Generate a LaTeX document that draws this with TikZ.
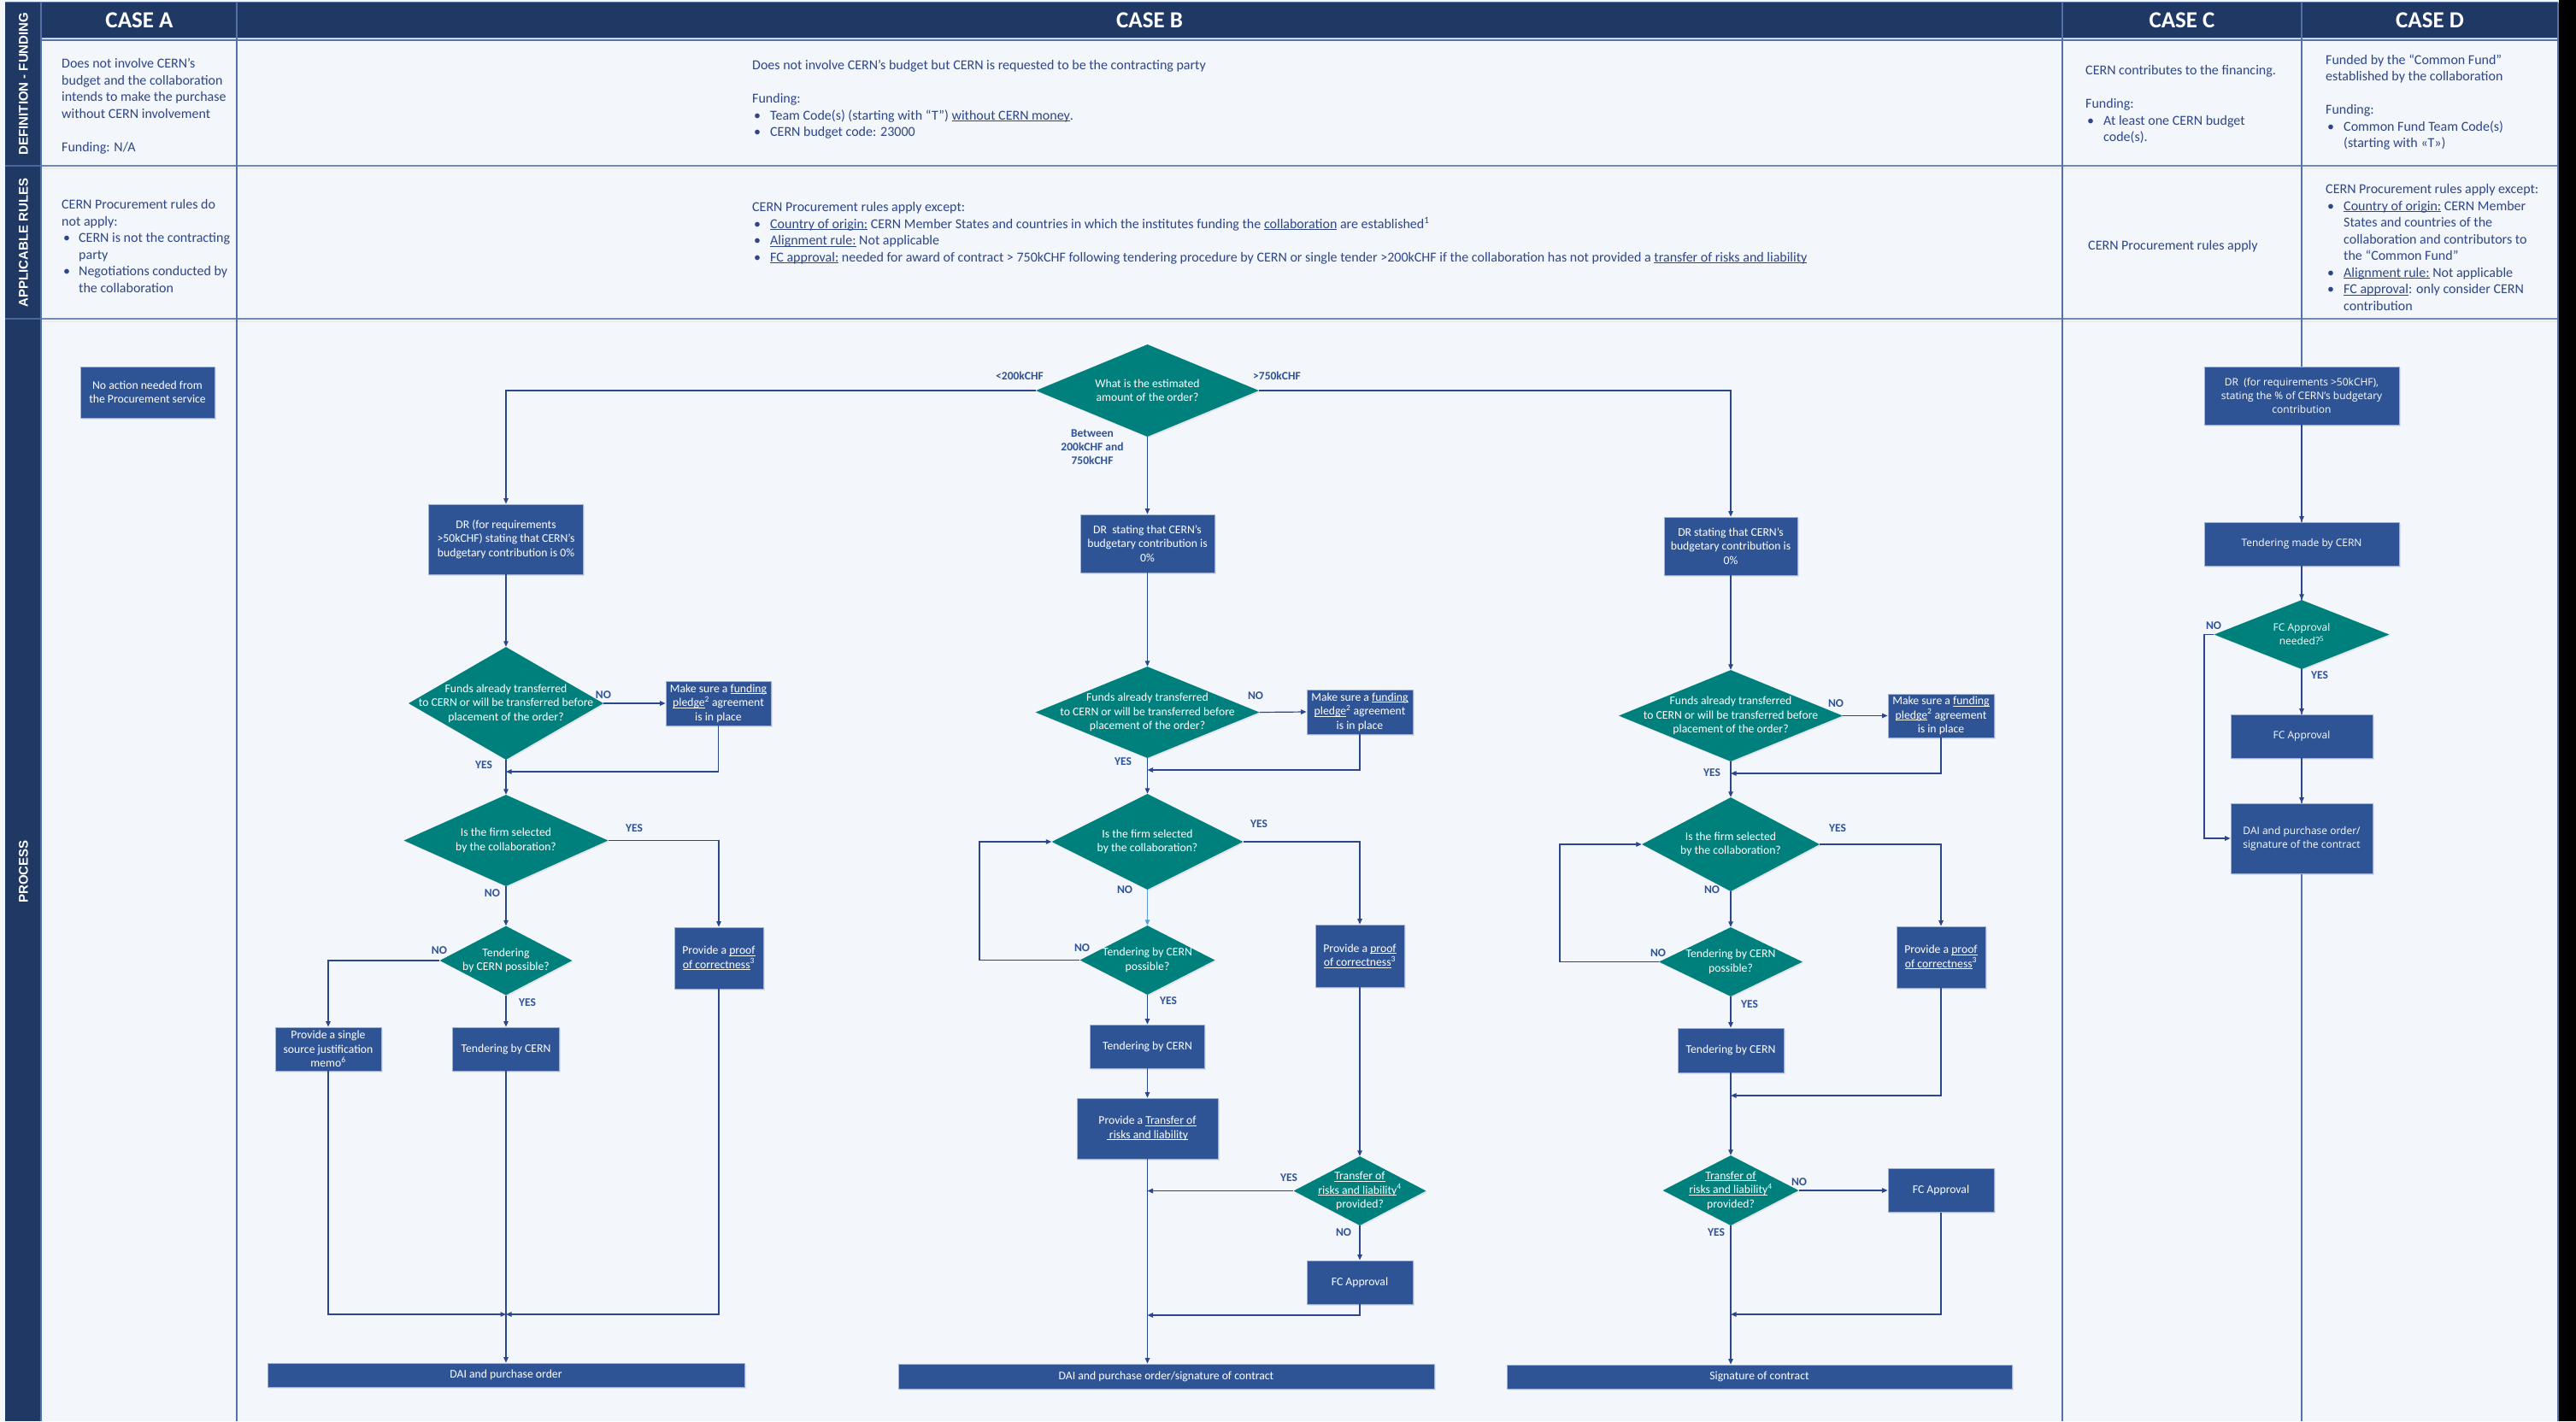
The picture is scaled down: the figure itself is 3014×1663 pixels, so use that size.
\documentclass[tikz,border=0pt]{standalone}
\usepackage{fontspec}
\setmainfont{Carlito}
\newfontfamily\segoefnt{Open Sans}
\newfontfamily\stripfnt{Liberation Sans}
\usetikzlibrary{shapes.geometric,arrows.meta,shadows}
\definecolor{bgc}{RGB}{243,246,251}
\definecolor{navy}{RGB}{31,56,100}
\definecolor{gridc}{RGB}{84,114,166}
\definecolor{rowc}{RGB}{110,138,185}
\definecolor{boxc}{RGB}{47,84,150}
\definecolor{boxedge}{RGB}{160,178,212}
\definecolor{tealc}{RGB}{0,128,124}
\definecolor{txtc}{RGB}{45,70,135}
\definecolor{lblc}{RGB}{47,82,150}
\definecolor{connc}{RGB}{44,70,138}
\definecolor{connl}{RGB}{95,155,215}
\newsavebox\ulbox
\newcommand{\uln}[1]{\sbox\ulbox{#1}\rlap{\rule[-1.7pt]{\wd\ulbox}{0.75pt}}\usebox\ulbox}
\newcommand{\bula}{\makebox[20pt][l]{\hspace{2pt}\textbullet}}
\newcommand{\inda}{\hspace*{20pt}}
\newcommand{\bulb}{\makebox[21pt][l]{\hspace{2pt}\textbullet}}
\newcommand{\indb}{\hspace*{21pt}}
\newcommand{\cellfnt}{\fontsize{16}{19.5}\selectfont}
\newcommand{\boxfnt}{\fontsize{13.7}{16.5}\selectfont}
\newcommand{\dfnt}{\segoefnt\fontsize{12}{16}\selectfont}
\newcommand{\lblfnt}{\bfseries\fontsize{13.5}{16}\selectfont}
\begin{document}
\begin{tikzpicture}[x=1pt,y=-1pt,
  cell/.style={anchor=north west, inner sep=0pt, align=left, text=txtc, font=\cellfnt},
  hdr/.style={text=white, font=\bfseries\fontsize{27}{30}\selectfont, inner sep=0pt},
  striplbl/.style={text=white, rotate=90, font=\stripfnt\bfseries\fontsize{15}{18}\selectfont, inner sep=0pt},
  pbox/.style={rectangle, fill=boxc, draw=boxedge, line width=0.8pt, text=white, align=center, inner sep=0pt, font=\boxfnt, drop shadow={shadow xshift=1.5pt, shadow yshift=-1.5pt, opacity=0.18}},
  dia/.style={diamond, fill=tealc, inner sep=0pt, drop shadow={shadow xshift=1.5pt, shadow yshift=-1.5pt, opacity=0.15}},
  dtext/.style={text=white, align=center, inner sep=0pt, font=\boxfnt},
  lbl/.style={text=lblc, font=\lblfnt, inner sep=0pt, align=center},
  conn/.style={draw=connc, line width=1.2pt},
  arr/.style={conn, -{Triangle[length=6.5pt,width=5.5pt]}}
]
\useasboundingbox (0,0) rectangle (3014,1663);
% ---------- background and grid ----------
\fill[bgc] (0,0) rectangle (3014,1663);
\fill[black] (2994,0) rectangle (3014,1663);
\fill[navy] (6,3) rectangle (48,1663);
\fill[navy] (48,3) rectangle (2993,45);
\draw[rowc!70!white, line width=1pt] (48,44) -- (2993,44);
\draw[gridc, line width=2pt] (48,46.5) -- (2993,46.5);
\draw[black!8, line width=2pt] (48,197) -- (2993,197);
\draw[black!8, line width=2pt] (48,376) -- (2993,376);
\draw[rowc, line width=2.5pt] (48,194) -- (2993,194);
\draw[rowc, line width=2.5pt] (48,373) -- (2993,373);
\draw[gridc!80!navy, line width=2pt] (6,194) -- (48,194);
\draw[gridc!80!navy, line width=2pt] (6,373) -- (48,373);
\draw[gridc, line width=1.2pt] (48,3) -- (48,1663);
\draw[gridc, line width=1.5pt] (277,3) -- (277,1663);
\draw[gridc, line width=1.5pt] (2413,3) -- (2413,1663);
\draw[gridc, line width=1.5pt] (2693,3) -- (2693,1663);
\draw[gridc, line width=1.5pt] (2993,3) -- (2993,1663);
\draw[gridc, line width=1pt] (6,2.5) -- (2993,2.5);
% ---------- strip labels ----------
\node[striplbl] (lblDef) at (27.5,98) {DEFINITION - FUNDING};
\node[striplbl] (lblRul) at (27.5,284) {APPLICABLE RULES};
\node[striplbl] (lblPro) at (27.5,1020) {PROCESS};
% ---------- headers ----------
\node[hdr] (hA) at (163,24) {CASE A};
\node[hdr] (hB) at (1345,24) {CASE B};
\node[hdr] (hC) at (2553,24) {CASE C};
\node[hdr] (hD) at (2843,24) {CASE D};
% ---------- definition / rules texts ----------
\node[cell] (defA) at (72,68.5) {Does not involve CERN’s\\budget and the collaboration\\intends to make the purchase\\without CERN involvement\\\mbox{}\\Funding: N/A};
\node[cell] (rulA) at (72,233.5) {CERN Procurement rules do\\not apply:\\\bula CERN is not the contracting\\\inda party\\\bula Negotiations conducted by\\\inda the collaboration};
\node[cell] (defB) at (880,70.5) {Does not involve CERN’s budget but CERN is requested to be the contracting party\\\mbox{}\\Funding:\\\bulb Team Code(s) (starting with “T”) \uln{without CERN money}.\\\bulb CERN budget code: 23000};
\node[cell] (rulB) at (880,236.5) {CERN Procurement rules apply except:\\\bulb \uln{Country of origin:} CERN Member States and countries in which the institutes funding the \uln{collaboration} are established\textsuperscript{1}\\\bulb \uln{Alignment rule:} Not applicable\\\bulb \uln{FC approval:} needed for award of contract > 750kCHF following tendering procedure by CERN or single tender >200kCHF if the collaboration has not provided a \uln{transfer of risks and liability}};
\node[cell] (defC) at (2440,76.5) {CERN contributes to the financing.\\\mbox{}\\Funding:\\\bulb At least one CERN budget\\\indb code(s).};
\node[cell] (rulC) at (2443,281.5) {CERN Procurement rules apply};
\node[cell] (defD) at (2721,63.5) {Funded by the “Common Fund”\\established by the collaboration\\\mbox{}\\Funding:\\\bulb Common Fund Team Code(s)\\\indb (starting with «T»)};
\node[cell] (rulD) at (2721,215.5) {CERN Procurement rules apply except:\\\bulb \uln{Country of origin:} CERN Member\\\indb States and countries of the\\\indb collaboration and contributors to\\\indb the “Common Fund”\\\bulb \uln{Alignment rule:} Not applicable\\\bulb \uln{FC approval}: only consider CERN\\\indb contribution};
% ---------- CASE A process ----------
\node[pbox, minimum width=157pt, minimum height=60pt] (noact) at (172.5,459) {No action needed from\\the Procurement service};
\node[pbox, minimum width=181pt, minimum height=82pt] (drA) at (592,631) {DR (for requirements\\>50kCHF) stating that CERN’s\\budgetary contribution is 0\%};
\node[dia, minimum width=228pt, minimum height=132pt] (fundsA) at (592,823) {};
\node[dtext] (fundsAt) at (fundsA) {Funds already transferred\\to CERN or will be transferred before\\placement of the order?};
\node[pbox, minimum width=123pt, minimum height=52pt] (pledgeA) at (840.5,823) {Make sure a \uln{funding}\\\uln{pledge}\textsuperscript{2} agreement\\is in place};
\node[dia, minimum width=239pt, minimum height=107pt] (firmA) at (592,983.5) {};
\node[dtext] (firmAt) at (firmA) {Is the firm selected\\by the collaboration?};
\node[dia, minimum width=155pt, minimum height=81pt] (tendqA) at (592,1124) {};
\node[dtext] (tendqAt) at (tendqA) {Tendering\\by CERN possible?};
\node[pbox, minimum width=124pt, minimum height=51pt] (singleA) at (384,1227.5) {Provide a single\\source justification\\memo\textsuperscript{6}};
\node[pbox, minimum width=125pt, minimum height=51pt] (tendA) at (592,1227.5) {Tendering by CERN};
\node[pbox, minimum width=104pt, minimum height=72pt] (proofA) at (841,1121) {Provide a \uln{proof}\\\uln{of correctness}\textsuperscript{3}};
\node[pbox, minimum width=558pt, minimum height=28pt] (daiA) at (592,1609) {DAI and purchase order};
\coordinate (jA1) at (592,903);
\coordinate (jA2) at (592,1538);
% ---------- CASE B process ----------
\node[dia, minimum width=261pt, minimum height=108pt] (amt) at (1342.5,457) {};
\node[dtext] (amtt) at (amt) {What is the estimated\\amount of the order?};
\node[pbox, minimum width=157pt, minimum height=68pt] (drB) at (1342.5,636) {DR\ \ stating that CERN’s\\budgetary contribution is\\0\%};
\node[dia, minimum width=262pt, minimum height=107pt] (fundsB) at (1342.5,833.5) {};
\node[dtext] (fundsBt) at (fundsB) {Funds already transferred\\to CERN or will be transferred before\\placement of the order?};
\node[pbox, minimum width=124pt, minimum height=52pt] (pledgeB) at (1591,833) {Make sure a \uln{funding}\\\uln{pledge}\textsuperscript{2} agreement\\is in place};
\node[dia, minimum width=224pt, minimum height=112pt] (firmB) at (1342.5,985) {};
\node[dtext] (firmBt) at (firmB) {Is the firm selected\\by the collaboration?};
\node[dia, minimum width=158pt, minimum height=81pt] (tendqB) at (1342.5,1123.5) {};
\node[dtext] (tendqBt) at (tendqB) {Tendering by CERN\\possible?};
\node[pbox, minimum width=134pt, minimum height=51pt] (tendB) at (1342.5,1224.5) {Tendering by CERN};
\node[pbox, minimum width=165pt, minimum height=71pt] (transB) at (1342.5,1320.5) {Provide a \uln{Transfer of}\\\uln{ risks and liability}};
\node[pbox, minimum width=104pt, minimum height=73pt] (proofB) at (1591,1118.5) {Provide a \uln{proof}\\\uln{of correctness}\textsuperscript{3}};
\node[dia, minimum width=155pt, minimum height=81pt] (trdB) at (1591,1393.5) {};
\node[dtext] (trdBt) at (trdB) {\uln{Transfer of}\\\uln{risks and liability}\textsuperscript{4}\\provided?};
\node[pbox, minimum width=124pt, minimum height=51pt] (fcB) at (1591,1500.5) {FC Approval};
\node[pbox, minimum width=627pt, minimum height=29pt] (daiB) at (1364.5,1610.5) {DAI and purchase order/signature of contract};
\coordinate (jB1) at (1342.5,901);
\coordinate (lB) at (1146,1123.5);
\coordinate (jB2) at (1342.5,1393.5);
\coordinate (jB3) at (1342.5,1539);
% ---------- CASE B right column ----------
\node[pbox, minimum width=156pt, minimum height=68pt] (drC) at (2025,639) {DR stating that CERN’s\\budgetary contribution is\\0\%};
\node[dia, minimum width=262pt, minimum height=107pt] (fundsC) at (2025,837.5) {};
\node[dtext] (fundsCt) at (fundsC) {Funds already transferred\\to CERN or will be transferred before\\placement of the order?};
\node[pbox, minimum width=124pt, minimum height=51pt] (pledgeC) at (2271,837.5) {Make sure a \uln{funding}\\\uln{pledge}\textsuperscript{2} agreement\\is in place};
\node[dia, minimum width=208pt, minimum height=110pt] (firmC) at (2025,988) {};
\node[dtext] (firmCt) at (firmC) {Is the firm selected\\by the collaboration?};
\node[dia, minimum width=168pt, minimum height=81pt] (tendqC) at (2025,1125.5) {};
\node[dtext] (tendqCt) at (tendqC) {Tendering by CERN\\possible?};
\node[pbox, minimum width=124pt, minimum height=52pt] (tendC) at (2025,1229) {Tendering by CERN};
\node[pbox, minimum width=104pt, minimum height=72pt] (proofC) at (2271,1120) {Provide a \uln{proof}\\\uln{of correctness}\textsuperscript{3}};
\node[dia, minimum width=159pt, minimum height=82pt] (trdC) at (2025,1393) {};
\node[dtext] (trdCt) at (trdC) {\uln{Transfer of}\\\uln{risks and liability}\textsuperscript{4}\\provided?};
\node[pbox, minimum width=124pt, minimum height=51pt] (fcC) at (2271,1393) {FC Approval};
\node[pbox, minimum width=591pt, minimum height=28pt] (sigC) at (2058.5,1611) {Signature of contract};
\coordinate (jC1) at (2025,905);
\coordinate (lC) at (1825,1125.5);
\coordinate (jC2) at (2025,1282);
\coordinate (jC3) at (2025,1538);
% ---------- CASE C / D process ----------
\node[pbox, font=\dfnt, minimum width=228pt, minimum height=68pt] (drD) at (2693,463) {DR\ \ (for requirements >50kCHF),\\stating the \% of CERN’s budgetary\\contribution};
\node[pbox, font=\dfnt, minimum width=228pt, minimum height=51pt] (tenD) at (2693,636.5) {Tendering made by CERN};
\node[dia, minimum width=205pt, minimum height=81pt] (fcqD) at (2693,742.5) {};
\node[dtext, font=\dfnt] (fcqDt) at (fcqD) {FC Approval\\needed?\textsuperscript{5}};
\node[pbox, font=\dfnt, minimum width=166pt, minimum height=51pt] (fcD) at (2693,861.5) {FC Approval};
\node[pbox, font=\dfnt, minimum width=166pt, minimum height=82pt] (daiD) at (2693,981) {DAI and purchase order/\\signature of the contract};
\coordinate (lD) at (2579,742.5);
% ---------- connectors ----------
\draw[arr] (amt.west) -| (drA.north);
\draw[arr] (amt.east) -| (drC.north);
\draw[arr] (amt.south) -- (drB.north);
% Case A
\draw[arr] (drA.south) -- (fundsA.north);
\draw[arr] (fundsA.east) -- (pledgeA.west);
\draw[arr] (pledgeA.south) |- (jA1);
\draw[arr] (fundsA.south) -- (firmA.north);
\draw[arr] (firmA.east) -| (proofA.north);
\draw[arr] (firmA.south) -- (tendqA.north);
\draw[arr] (tendqA.west) -| (singleA.north);
\draw[arr] (tendqA.south) -- (tendA.north);
\draw[arr] (singleA.south) |- (jA2);
\draw[arr] (proofA.south) |- (jA2);
\draw[arr] (tendA.south) -- (daiA.north);
% Case B middle
\draw[arr] (drB.south) -- (fundsB.north);
\draw[arr] (fundsB.east) -- (pledgeB.west);
\draw[arr] (pledgeB.south) |- (jB1);
\draw[arr] (fundsB.south) -- (firmB.north);
\draw[arr] (firmB.east) -| (proofB.north);
\draw[arr, draw=connl] (firmB.south) -- (tendqB.north);
\draw[arr] (tendqB.west) -- (lB) |- (firmB.west);
\draw[arr] (tendqB.south) -- (tendB.north);
\draw[arr] (tendB.south) -- (transB.north);
\draw[arr] (proofB.south) -- (trdB.north);
\draw[arr] (trdB.west) -- (jB2);
\draw[arr] (trdB.south) -- (fcB.north);
\draw[arr] (fcB.south) |- (jB3);
\draw[arr] (transB.south) -- (transB.south |- daiB.north);
% Case B right
\draw[arr] (drC.south) -- (fundsC.north);
\draw[arr] (fundsC.east) -- (pledgeC.west);
\draw[arr] (pledgeC.south) |- (jC1);
\draw[arr] (fundsC.south) -- (firmC.north);
\draw[arr] (firmC.east) -| (proofC.north);
\draw[arr] (firmC.south) -- (tendqC.north);
\draw[arr] (tendqC.west) -- (lC) |- (firmC.west);
\draw[arr] (tendqC.south) -- (tendC.north);
\draw[arr] (tendC.south) -- (trdC.north);
\draw[arr] (proofC.south) |- (jC2);
\draw[arr] (trdC.east) -- (fcC.west);
\draw[arr] (trdC.south) -- (trdC.south |- sigC.north);
\draw[arr] (fcC.south) |- (jC3);
% Case C/D
\draw[arr] (drD.south) -- (tenD.north);
\draw[arr] (tenD.south) -- (fcqD.north);
\draw[arr] (fcqD.south) -- (fcD.north);
\draw[arr] (fcD.south) -- (daiD.north);
\draw[arr] (fcqD.west) -- (lD) |- (daiD.west);
% ---------- labels ----------
\node[lbl] (l200) at (1193,440) {<200kCHF};
\node[lbl] (l750) at (1494,440) {>750kCHF};
\node[lbl] (lbtw) at (1278,523) {Between\\200kCHF and\\750kCHF};
\node[lbl] (lA1) at (706,813) {NO};
\node[lbl] (lA2) at (566,895) {YES};
\node[lbl] (lA3) at (742,969) {YES};
\node[lbl] (lA4) at (576,1045) {NO};
\node[lbl] (lA5) at (514,1112) {NO};
\node[lbl] (lA6) at (617,1173) {YES};
\node[lbl] (lB1) at (1469,814) {NO};
\node[lbl] (lB2) at (1314,891) {YES};
\node[lbl] (lB3) at (1473,964) {YES};
\node[lbl] (lB4) at (1316,1041) {NO};
\node[lbl] (lB5) at (1266,1109) {NO};
\node[lbl] (lB6) at (1367,1171) {YES};
\node[lbl] (lB7) at (1508,1378) {YES};
\node[lbl] (lB8) at (1572,1442) {NO};
\node[lbl] (lC1) at (2148,823) {NO};
\node[lbl] (lC2) at (2003,904) {YES};
\node[lbl] (lC3) at (2150,969) {YES};
\node[lbl] (lC4) at (2003,1041) {NO};
\node[lbl] (lC5) at (1940,1115) {NO};
\node[lbl] (lC6) at (2047,1175) {YES};
\node[lbl] (lC7) at (2105,1383) {NO};
\node[lbl] (lC8) at (2008,1442) {YES};
\node[lbl] (lD1) at (2590,732) {NO};
\node[lbl] (lD2) at (2714,790) {YES};
\end{tikzpicture}
\end{document}
